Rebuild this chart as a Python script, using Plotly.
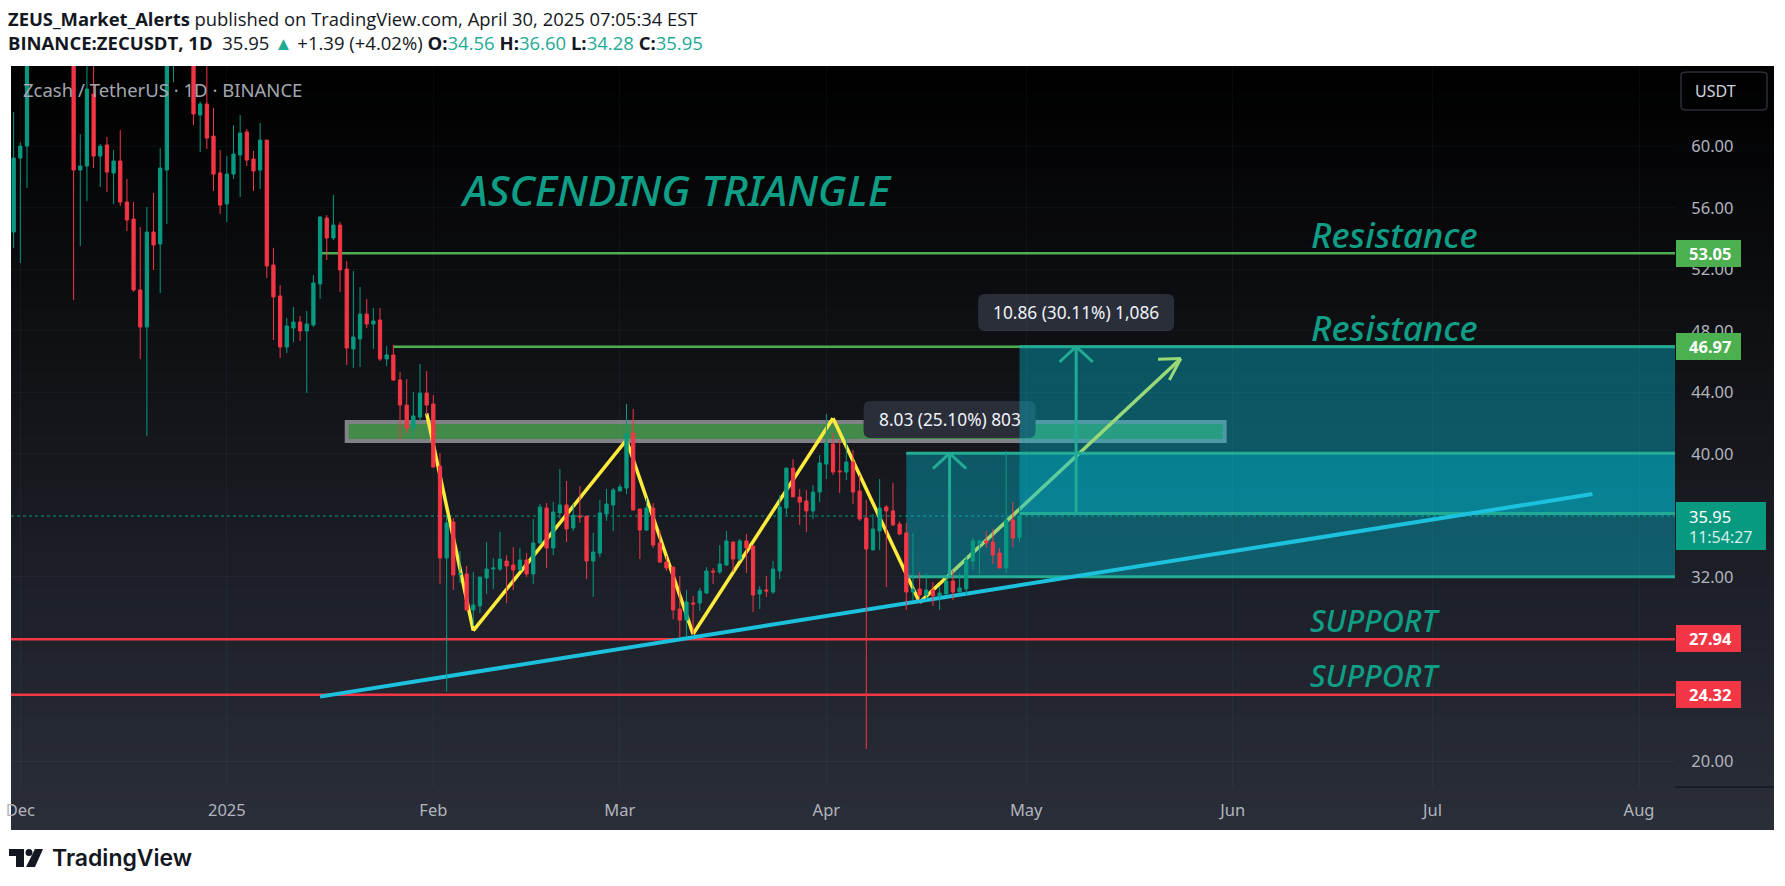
import pandas as pd
import plotly.graph_objects as go

# ---------- candle data (None = candle lies above the visible range) ----------
first_day = "2024-11-30"
opens = [54.43,59.24,60.02,None,None,None,None,None,None,68.0,58.46,58.72,63.41,59.37,60.09,58.27,59.05,56.38,55.27,50.66,
48.25,54.43,53.65,58.46,67.0,None,None,68.0,62.04,62.76,60.67,58.27,56.25,58.2,59.44,60.94,59.18,58.46,60.41,52.28,
50.27,46.95,48.18,48.57,47.99,48.38,51.05,55.34,54.04,54.88,52.02,46.82,47.47,49.09,48.44,48.7,46.17,46.43,44.8,43.17,
41.68,42.39,43.95,43.24,39.2,33.22,35.56,32.17,32.18,29.84,30.1,31.92,32.5,32.5,33.02,32.76,32.44,33.09,32.18,34.19,
36.47,33.87,36.15,36.67,35.17,35.95,35.95,33.02,33.54,36.08,36.67,37.58,37.77,41.35,36.41,35.04,36.47,34.19,32.96,32.63,
29.9,29.18,30.29,30.29,30.94,32.37,32.31,32.76,34.26,33.15,34.33,34.0,30.88,31.14,31.0,32.37,36.47,39.07,37.19,36.93,
36.28,37.51,39.33,40.64,38.88,38.81,39.46,37.58,35.82,33.74,34.98,36.54,36.28,35.43,34.85,31.01,31.2,30.81,31.14,30.75,
30.88,31.72,31.01,31.2,33.02,34.17,34.33,34.26,33.54,32.57,35.69,34.56]
highs = [62.24,60.26,70.0,None,None,None,None,None,None,70.0,60.8,66.0,66.0,60.15,60.61,59.76,61.06,57.88,56.38,54.75,
56.06,56.97,59.89,70.0,72.0,None,None,70.0,62.9,66.0,62.5,59.76,59.37,61.39,62.04,61.13,59.7,61.52,60.41,53.39,
50.98,48.83,49.55,48.96,49.29,51.63,55.47,55.53,56.84,55.08,52.54,51.89,50.85,50.07,49.48,49.48,47.0,47.08,45.32,44.86,
44.02,45.84,45.38,43.82,40.05,36.02,35.82,33.67,32.7,32.31,31.98,34.24,33.22,34.91,33.41,33.93,33.87,33.54,35.76,36.73,
36.8,36.86,39.01,38.23,36.73,37.9,35.95,34.85,36.99,37.71,37.77,38.03,43.24,42.91,36.41,37.12,36.8,35.04,33.35,32.63,
32.05,31.14,30.75,31.27,32.63,32.57,34.06,34.98,34.26,34.46,34.78,34.0,31.4,32.05,33.02,37.32,39.1,39.66,37.71,37.64,
37.97,39.92,42.59,41.35,40.9,41.22,40.25,38.62,36.99,36.08,38.36,36.67,38.1,35.6,35.5,34.85,32.31,32.24,31.66,31.4,
31.96,32.44,32.24,33.41,34.52,34.4,34.98,35.11,33.87,40.18,36.86,36.6]
lows = [53.39,52.41,57.29,None,None,None,None,None,None,50.0,53.52,56.45,58.59,57.36,57.03,56.25,56.12,54.49,50.53,46.17,
41.16,51.96,50.46,54.95,64.19,None,None,61.39,59.63,59.83,57.1,55.6,55.08,57.88,56.71,58.72,57.1,57.23,51.44,47.4,
46.23,46.56,47.27,47.34,43.95,48.25,50.07,52.61,53.91,50.52,45.78,45.58,45.65,48.18,46.82,46.04,45.71,44.73,40.9,41.35,
40.96,42.13,42.52,39.1,31.53,24.52,31.14,31.6,29.84,28.8,29.64,30.88,31.2,32.37,30.29,31.14,32.37,31.98,31.53,34.19,
32.57,33.41,35.76,34.26,34.98,35.5,31.85,30.68,33.28,35.63,34.98,37.58,37.38,36.34,33.15,34.98,33.87,32.89,32.37,29.25,
28.06,28.06,28.27,29.77,30.88,31.53,32.18,32.7,32.31,33.02,32.24,29.71,29.9,30.68,30.88,31.85,36.02,37.19,35.37,34.91,
35.76,36.86,38.36,38.62,37.45,38.29,36.73,35.63,20.79,33.74,33.74,31.33,35.3,34.7,29.84,30.49,30.49,30.49,30.1,29.84,
30.88,30.49,31.0,30.81,32.44,32.18,33.87,32.83,32.57,32.24,33.93,34.28]
closes = [59.24,60.02,68.0,None,None,None,None,None,None,58.46,58.72,63.73,59.37,60.02,58.33,59.05,56.38,55.21,50.66,48.25,
54.43,53.58,58.59,68.0,69.0,None,None,62.11,62.76,60.54,58.2,56.18,58.2,59.5,60.87,59.11,58.4,60.41,52.22,50.2,
46.95,48.31,48.57,47.99,48.44,51.11,55.4,54.04,54.88,51.96,46.88,47.6,49.09,48.44,48.64,46.17,46.43,44.8,43.17,41.68,
42.46,43.95,43.17,39.14,33.22,35.5,32.11,32.18,29.84,30.16,31.98,32.5,32.57,33.15,32.7,32.44,33.09,32.18,34.19,36.54,
33.87,36.21,36.67,35.11,36.0,35.89,33.02,33.61,36.15,36.73,37.64,37.84,41.29,36.34,35.04,36.47,34.06,32.96,32.57,29.84,
29.18,30.36,30.23,31.07,32.37,32.31,32.83,34.33,33.15,34.33,33.87,30.81,31.14,31.07,32.5,36.54,39.07,37.19,36.86,36.28,
37.51,39.4,40.7,38.81,38.83,39.46,37.51,35.76,33.8,35.11,36.47,36.28,35.37,34.78,31.01,31.2,30.81,31.14,30.75,30.94,
31.72,31.01,31.27,33.09,34.33,34.33,34.2,33.41,32.57,35.69,34.52,35.95]

# ---------- drawings ----------
support_levels = [27.94, 24.32]
resistance_levels = [53.05, 46.97]
resistance_starts = ["2025-01-15", "2025-01-26"]
last_price = 35.95
zone_dates = ["2025-01-19", "2025-05-30 19:00"]
zone_prices = [40.83, 42.07]
zigzag_dates = ["2025-01-31", "2025-02-07", "2025-03-02", "2025-03-12", "2025-04-02", "2025-04-15", "2025-05-24 05:00"]
zigzag_prices = [42.63, 28.49, 40.9, 28.27, 42.31, 30.33, 46.2]
zigzag_head_dates = ["2025-05-20 19:00", "2025-05-24 05:00", "2025-05-22 12:00"]
zigzag_head_prices = [46.15, 46.2, 44.8]
trend_dates = ["2025-01-15", "2025-07-25"]
trend_prices = [24.2, 37.38]
range1 = dict(start="2025-04-13", bottom=32.0, top=40.03, arrow="2025-04-19 12:00", left="2025-04-17", right="2025-04-22",
              label="8.03 (25.10%) 803", label_at=42.23, half_width=86)
range2 = dict(start="2025-04-30", bottom=36.11, top=46.97, arrow="2025-05-08 12:00", left="2025-05-06", right="2025-05-11",
              label="10.86 (30.11%) 1,086", label_at=49.2, half_width=98)
price_ticks = [20, 32, 40, 44, 48, 52, 56, 60]
month_ticks = ["2024-12-01", "2025-01-01", "2025-02-01", "2025-03-01", "2025-04-01", "2025-05-01", "2025-06-01", "2025-07-01", "2025-08-01"]
month_labels = ["Dec", "2025", "Feb", "Mar", "Apr", "May", "Jun", "Jul", "Aug"]
x_range = ["2024-11-29 14:24", "2025-08-06 09:36"]
y_range = [18.32, 65.23]

# ---------- page geometry (pixels) ----------
W, H = 1785, 886
L, R, T, B = 11, 1675, 66, 787
PANEL_R, PANEL_B = 1774, 830
GREEN, RED, TEAL = "#089981", "#F23645", "#22ab94"
FONT = "Noto Sans"

def px(x): return (x - L) / (R - L)
def py(y): return (B - y) / (B - T)

def rrect_path(x0, y0, x1, y1, r):
    return (f"M{x0+r},{y0} L{x1-r},{y0} Q{x1},{y0} {x1},{y0+r} L{x1},{y1-r} Q{x1},{y1} {x1-r},{y1} "
            f"L{x0+r},{y1} Q{x0},{y1} {x0},{y1-r} L{x0},{y0+r} Q{x0},{y0} {x0+r},{y0} Z")

shapes, notes = [], []

# panel gradient, black on top to #2a2e39 at the bottom
N = 60
for i in range(N):
    f = i / (N - 1)
    col = f"rgb({round(42*f)},{round(46*f)},{round(57*f)})"
    y0 = T + (PANEL_B - T) * i / N
    y1 = T + (PANEL_B - T) * (i + 1) / N + 1
    shapes.append(dict(type="rect", xref="paper", yref="paper", x0=px(L), x1=px(PANEL_R), y0=py(y0), y1=py(min(y1, PANEL_B)),
                       fillcolor=col, line_width=0, layer="below"))

def seg(x0, y0, x1, y1, color, width, dash="solid"):
    shapes.append(dict(type="line", xref="x", yref="y", x0=x0, y0=y0, x1=x1, y1=y1,
                       line=dict(color=color, width=width, dash=dash), layer="below"))

def poly(xs, ys, color, width):
    for a in range(len(xs) - 1):
        seg(xs[a], ys[a], xs[a + 1], ys[a + 1], color, width)

def bubble(date, price, half_w, half_h=18.5):
    shapes.append(dict(type="path", xref="x", yref="y", xsizemode="pixel", ysizemode="pixel", xanchor=date, yanchor=price,
                       path=rrect_path(-half_w, -half_h, half_w, half_h, 7), fillcolor="#2a2e39", line_width=0, layer="below"))

# zone, levels, zig-zag
shapes.append(dict(type="rect", xref="x", yref="y", x0=zone_dates[0], x1=zone_dates[1], y0=zone_prices[0], y1=zone_prices[1],
                   fillcolor="#43894a", line=dict(color="#808285", width=4), layer="below"))
for level, start in zip(resistance_levels, resistance_starts):
    seg(start, level, x_range[1], level, "#4caf50", 2.5)
for level in support_levels:
    seg(x_range[0], level, x_range[1], level, RED, 2.5)
seg(x_range[0], last_price, x_range[1], last_price, GREEN, 1, "dot")
poly(zigzag_dates, zigzag_prices, "#ffeb3b", 3.5)
poly(zigzag_head_dates, zigzag_head_prices, "#ffeb3b", 3)

# price ranges
for rng in (range1, range2):
    shapes.append(dict(type="rect", xref="x", yref="y", x0=rng["start"], x1=x_range[1], y0=rng["bottom"], y1=rng["top"],
                       fillcolor="rgba(0,188,212,0.4)", line_width=0, layer="below"))
    if rng is range1:
        bubble(rng["arrow"], rng["label_at"], rng["half_width"])
for rng in (range1, range2):
    seg(rng["start"], rng["bottom"], x_range[1], rng["bottom"], TEAL, 3)
    seg(rng["start"], rng["top"], x_range[1], rng["top"], TEAL, 3)
    seg(rng["arrow"], rng["bottom"], rng["arrow"], rng["top"], TEAL, 3)
    seg(rng["left"], rng["top"] - 1, rng["arrow"], rng["top"], TEAL, 3)
    seg(rng["right"], rng["top"] - 1, rng["arrow"], rng["top"], TEAL, 3)
bubble(range2["arrow"], range2["label_at"], range2["half_width"])
poly(trend_dates, trend_prices, "#1cc2dd", 4)

def note(x, y, text, size, color, anchor="left", family=FONT, style="normal", valign="middle", weight="normal"):
    notes.append(dict(xref="paper", yref="paper", x=px(x), y=py(y), text=text, showarrow=False, xanchor=anchor, yanchor=valign,
                      font=dict(family=family, size=size, color=color, style=style, weight=weight), align=anchor,
                      borderpad=0, borderwidth=0))

for rng in (range1, range2):
    notes.append(dict(xref="x", yref="y", x=rng["arrow"], y=rng["label_at"], text=rng["label"], showarrow=False,
                      font=dict(family=FONT, size=17.3, color="#f0f3fa")))

# on-chart words
note(460, 189, "ASCENDING TRIANGLE", 42.5, "#0f9e85", style="italic", weight=500)
for y in (234, 328):
    note(1311, y, "Resistance", 35, "#0f9e85", style="italic", weight=500)
for y in (620, 675):
    note(1310, y, "SUPPORT", 30.5, "#0f9e85", style="italic", weight=500)
note(23, 90, "Zcash / TetherUS · 1D · BINANCE", 18.5, "#a3a6af")

# USDT button
shapes.append(dict(type="path", xref="paper", yref="paper", layer="above",
                   path=rrect_path(px(1681), py(110), px(1767), py(72), 0.004), fillcolor="rgba(0,0,0,0)",
                   line=dict(color="#2a2e39", width=1.5)))
note(1695, 91, "USDT", 16, "#d1d4dc")

# axis divider below the price scale
shapes.append(dict(type="line", xref="paper", yref="paper", x0=px(R), x1=px(PANEL_R), y0=py(B), y1=py(B),
                   line=dict(color="#131722", width=1.5), layer="above"))

# price tags
tag_y = {53.05: 253.5, 46.97: 346.5, 27.94: 638.5, 24.32: 694.5}
for level, colour in zip(resistance_levels + support_levels, ["#4caf50", "#4caf50", RED, RED]):
    yc = tag_y[level]
    shapes.append(dict(type="rect", xref="paper", yref="paper", x0=px(1676), x1=px(1741), y0=py(yc + 13.5), y1=py(yc - 13.5),
                       fillcolor=colour, line_width=0, layer="above"))
    note(1689, yc, f"<b>{level:.2f}</b>", 16.5, "#ffffff")
shapes.append(dict(type="rect", xref="paper", yref="paper", x0=px(1676), x1=px(1766), y0=py(550), y1=py(502),
                   fillcolor=GREEN, line_width=0, layer="above"))
note(1689, 516, "35.95", 16.5, "#ffffff")
note(1689, 537, "11:54:27", 16, "#d5efe9")

# header
note(8, 18.5, "<b>ZEUS_Market_Alerts</b> published on TradingView.com, April 30, 2025 07:05:34 EST", 18.4, "#131722", family="Open Sans")
teal_text = '<span style="color:#22ab94">'
note(8, 42, f'<b>BINANCE:ZECUSDT, 1D</b>  35.95 {teal_text}▲</span> +1.39 (+4.02%) <b>O:</b>{teal_text}34.56</span> '
            f'<b>H:</b>{teal_text}36.60</span> <b>L:</b>{teal_text}34.28</span> <b>C:</b>{teal_text}35.95</span>',
     18.5, "#131722", family="Open Sans")

# logo
shapes.append(dict(type="path", xref="paper", yref="paper", layer="above", fillcolor="#131722", line_width=0,
                   path=f"M{px(9)},{py(849)} L{px(24)},{py(849)} L{px(24)},{py(867)} L{px(16)},{py(867)} L{px(16)},{py(856)} L{px(9)},{py(856)} Z"))
shapes.append(dict(type="circle", xref="paper", yref="paper", layer="above", fillcolor="#131722", line_width=0,
                   x0=px(25.5), x1=px(32.5), y0=py(856), y1=py(849)))
shapes.append(dict(type="path", xref="paper", yref="paper", layer="above", fillcolor="#131722", line_width=0,
                   path=f"M{px(35)},{py(849)} L{px(43)},{py(849)} L{px(35)},{py(867)} L{px(26)},{py(867)} Z"))
note(52, 857.5, "TradingView", 23, "#131722", family="Inter", weight=600)

fig = go.Figure(go.Candlestick(
    x=pd.date_range(first_day, periods=len(opens), freq="D"),
    open=opens, high=highs, low=lows, close=closes,
    increasing=dict(line=dict(color=GREEN, width=1), fillcolor=GREEN),
    decreasing=dict(line=dict(color=RED, width=1), fillcolor=RED),
    whiskerwidth=0, showlegend=False, hoverinfo="skip",
))
grid = "rgba(240,243,250,0.035)"
fig.update_layout(
    width=W, height=H, autosize=False,
    margin=dict(l=L, r=W - R, t=T, b=H - B, pad=0, autoexpand=False),
    paper_bgcolor="#ffffff", plot_bgcolor="rgba(0,0,0,0)",
    showlegend=False, shapes=shapes, annotations=notes,
    xaxis=dict(type="date", range=x_range, rangeslider=dict(visible=False), tickmode="array",
               tickvals=month_ticks, ticktext=month_labels, showgrid=True, gridcolor=grid, zeroline=False,
               ticks="outside", ticklen=8, tickcolor="rgba(0,0,0,0)", showline=False,
               tickfont=dict(family=FONT, size=16.5, color="#b2b5be")),
    yaxis=dict(range=y_range, side="right", tickmode="array", tickvals=price_ticks,
               ticktext=[f"{v:.2f}" for v in price_ticks], showgrid=True, gridcolor=grid, zeroline=False,
               ticks="outside", ticklen=12, tickcolor="rgba(0,0,0,0)", showline=False,
               tickfont=dict(family=FONT, size=16.5, color="#b2b5be")),
)
fig.write_html("out.html", post_script="document.body.style.margin='0';", config=dict(displayModeBar=False))
